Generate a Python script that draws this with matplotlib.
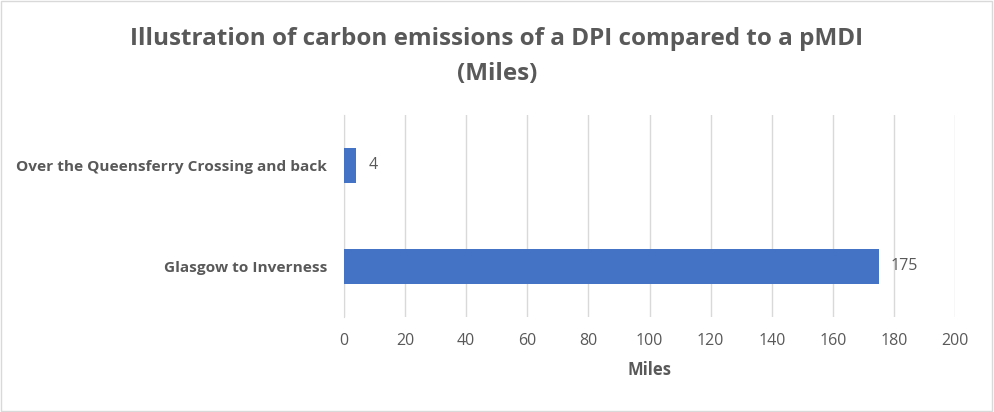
import matplotlib.pyplot as plt
import matplotlib

matplotlib.rcParams['font.family'] = ['Open Sans', 'DejaVu Sans']

# chart data
routes = ['Glasgow to Inverness', 'Over the Queensferry Crossing and back']
miles = [175, 4]
xticks = [0, 20, 40, 60, 80, 100, 120, 140, 160, 180, 200]

txt = '#595959'

fig = plt.figure(figsize=(9.94, 4.12), dpi=100)
ax = fig.add_axes([0.346, 0.231, 0.615, 0.49])

bars = ax.barh(routes, miles, height=0.35, color='#4472C4', zorder=3)
for b, v in zip(bars, miles):
    ax.text(b.get_width() + 4, b.get_y() + b.get_height() / 2, str(v),
            va='center', ha='left', fontsize=11.5, color=txt)

ax.set_xlim(0, 200)
ax.set_ylim(-0.5, 1.5)
ax.set_xticks(xticks)
ax.tick_params(axis='x', length=0, labelsize=11.5, labelcolor=txt, pad=12)
ax.tick_params(axis='y', length=0, labelsize=11.1, labelcolor=txt, pad=12)
for lab in ax.get_yticklabels():
    lab.set_fontweight('bold')
ax.grid(axis='x', color='#D9D9D9', linewidth=1, zorder=0)
for s in ['top', 'right', 'bottom']:
    ax.spines[s].set_visible(False)
ax.spines['left'].set_color('#D9D9D9')

ax.set_xlabel('Miles', fontsize=12, fontweight='bold', color=txt, labelpad=8)

fig.text(0.5, 0.905, 'Illustration of carbon emissions of a DPI compared to a pMDI',
         ha='center', va='center', fontsize=17.5, fontweight='bold', color=txt)
fig.text(0.5, 0.82, '(Miles)', ha='center', va='center',
         fontsize=17.5, fontweight='bold', color=txt)

fig.patches.append(matplotlib.patches.Rectangle((0.001, 0.002), 0.997, 0.995,
                   transform=fig.transFigure, fill=False, edgecolor='#D9D9D9', linewidth=1))

fig.savefig('out.png', dpi=100)
